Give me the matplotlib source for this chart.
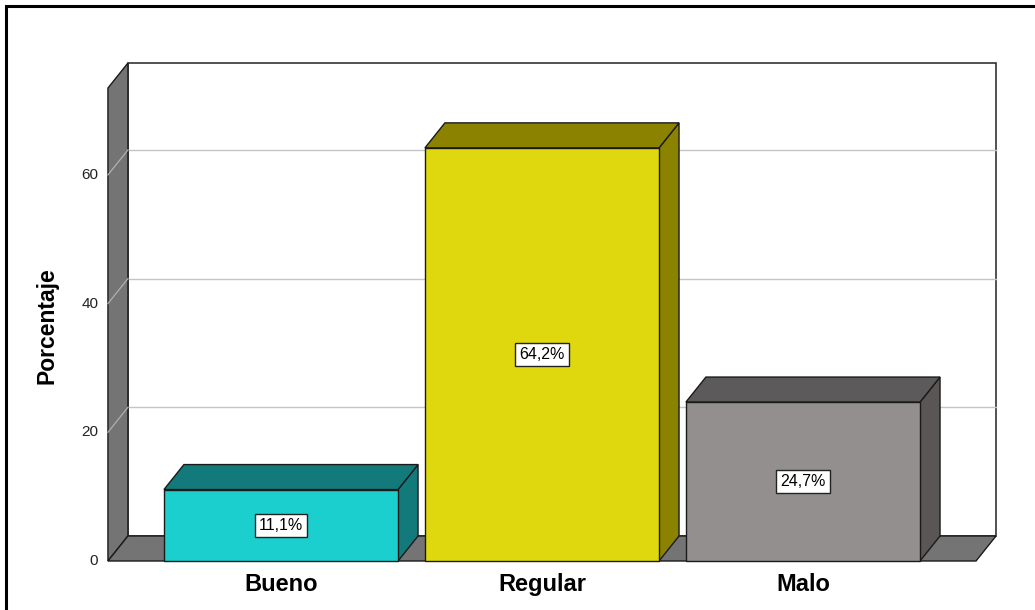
import matplotlib
matplotlib.use("Agg")
import matplotlib.pyplot as plt
from matplotlib.patches import Polygon, Rectangle

categories = ["Bueno", "Regular", "Malo"]
values = [11.1, 64.2, 24.7]
value_labels = ["11,1%", "64,2%", "24,7%"]
yticks = [0, 20, 40, 60]
ylabel = "Porcentaje"

front_colors = ["#1ccfcf", "#e0d80e", "#938f8e"]
dark_colors = ["#127a7a", "#8b8200", "#5c5a5a"]
side_colors = ["#127a7a", "#8b8200", "#5a5655"]

plt.rcParams["font.family"] = ["Liberation Sans", "DejaVu Sans"]

fig = plt.figure(figsize=(10.35, 6.10), dpi=100)
ax = fig.add_axes([0, 0, 1, 1])
ax.set_xlim(-1.0766, 2.889)
ax.set_ylim(-7.615, 87.18)
ax.axis("off")

X0, X1 = -0.663, 2.663
YTOP = 73.5
DX, DY = 0.0766, 3.885
W = 0.897
WALL = "#747474"
EDGE = "#1a1a1a"

# outer frame (left + top)
ax.plot([-1.052, -1.052, 2.889], [-7.615, 86.3, 86.3], color="black", lw=2.2,
        solid_joinstyle="miter", clip_on=False, zorder=0)

# back wall
ax.add_patch(Rectangle((X0 + DX, DY), X1 - X0, YTOP, facecolor="white",
                       edgecolor="#333333", lw=1.2, zorder=1))
# left wall
ax.add_patch(Polygon([(X0, 0), (X0 + DX, DY), (X0 + DX, YTOP + DY), (X0, YTOP)],
                     closed=True, facecolor=WALL, edgecolor=EDGE, lw=1.0, zorder=2))
# floor
ax.add_patch(Polygon([(X0, 0), (X1, 0), (X1 + DX, DY), (X0 + DX, DY)],
                     closed=True, facecolor=WALL, edgecolor=EDGE, lw=1.0, zorder=2))

# gridlines
for t in yticks[1:]:
    ax.plot([X0 + DX, X1 + DX], [t + DY, t + DY], color="#c4c4c4", lw=1.0, zorder=1.5)
    ax.plot([X0, X0 + DX], [t, t + DY], color="#b0b0b0", lw=0.9, zorder=2.5)
for t in yticks:
    ax.text(X0 - 0.037, t, str(t), ha="right", va="center", fontsize=11, color="#222222")

ax.text(-0.897, 36.5, ylabel, rotation=90, ha="center", va="center",
        fontsize=16.5, fontweight="bold", color="black")

# bars
for i, (cat, v, lab) in enumerate(zip(categories, values, value_labels)):
    l, r = i - W / 2, i + W / 2
    # side
    ax.add_patch(Polygon([(r, 0), (r + DX, DY), (r + DX, v + DY), (r, v)], closed=True,
                         facecolor=side_colors[i], edgecolor=EDGE, lw=1.0, zorder=3))
    # top
    ax.add_patch(Polygon([(l, v), (r, v), (r + DX, v + DY), (l + DX, v + DY)], closed=True,
                         facecolor=dark_colors[i], edgecolor=EDGE, lw=1.0, zorder=3))
    # front
    ax.add_patch(Rectangle((l, 0), W, v, facecolor=front_colors[i], edgecolor=EDGE,
                           lw=1.0, zorder=4))
    ax.text(i, v / 2, lab, ha="center", va="center", fontsize=11.5, color="black", zorder=5,
            bbox=dict(boxstyle="square,pad=0.25", facecolor="white", edgecolor="#222222", lw=1.0))
    ax.text(i, -3.6, cat, ha="center", va="center", fontsize=17, fontweight="bold", color="black")

fig.savefig("out.png", dpi=100)
